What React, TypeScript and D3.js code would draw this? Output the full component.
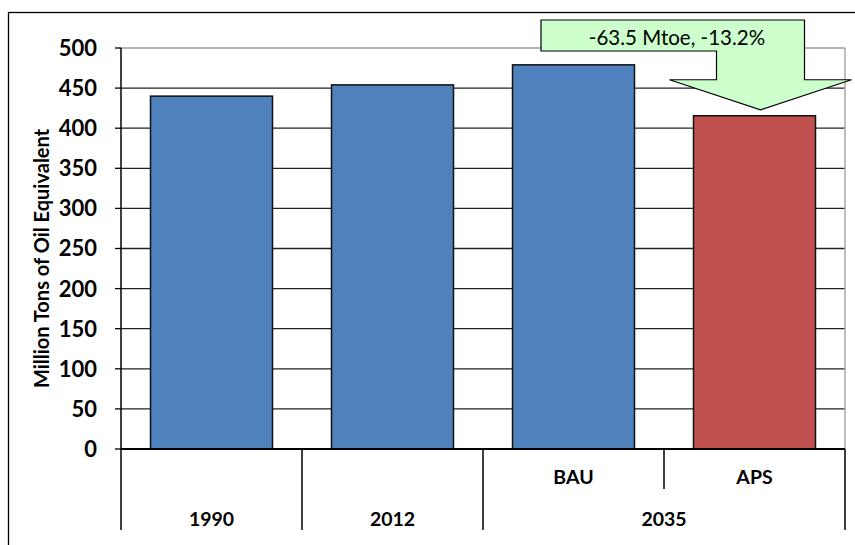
import React from "react";
import * as d3 from "d3";

const categories = ["1990", "2012", "BAU", "APS"];
const values = [440, 454, 479, 415.5];
const barColors = ["#4F81BD", "#4F81BD", "#4F81BD", "#C0504D"];
const groupLabels = ["1990", "2012", "2035"];
const groupSpans = [[0, 0], [1, 1], [2, 3]];
const yTicks = [0, 50, 100, 150, 200, 250, 300, 350, 400, 450, 500];
const yTitle = "Million Tons of Oil Equivalent";
const calloutText = "-63.5 Mtoe, -13.2%";

const W = 855;
const H = 545;
const plot = { left: 121, right: 845, top: 48, bottom: 449 };
const FONT = "Lato, 'Open Sans', sans-serif";

export default function App() {
  const x = d3.scaleBand<string>().domain(categories).range([plot.left, plot.right]).paddingInner(0.326).paddingOuter(0.163);
  const step = x.step();
  const y = d3.scaleLinear().domain([0, 500]).range([plot.bottom, plot.top]);
  const catLeft = (i: number) => plot.left + i * step;

  // callout geometry derived from scales
  const apsCenter = (x("APS") as number) + x.bandwidth() / 2;
  const tipX = apsCenter + 6;
  const tipY = y(values[3]) - 6;
  const headY = tipY - 30;
  const headL = tipX - 91;
  const headR = tipX + 91;
  const stemL = tipX - 44;
  const stemR = tipX + 44;
  const boxT = 20;
  const boxB = 51;
  const boxL = 541;
  const calloutPath = `M${boxL},${boxT} L${stemR},${boxT} L${stemR},${headY} L${headR},${headY} L${tipX},${tipY} L${headL},${headY} L${stemL},${headY} L${stemL},${boxB} L${boxL},${boxB} Z`;

  return (
    <div style={{ position: "fixed", left: 0, top: 0 }}>
      <svg width={W} height={H} style={{ display: "block", background: "#fff" }}>
        <rect x={8.5} y={12.5} width={W} height={H} fill="#fff" stroke="#000" strokeWidth={1.3} />
        {/* gridlines */}
        {yTicks.map((t) => (
          <line key={"g" + t} x1={plot.left} x2={plot.right} y1={y(t)} y2={y(t)}
            stroke={t === 500 ? "#9a9a9a" : "#222"} strokeWidth={t === 500 ? 1.5 : 1.3} />
        ))}
        <line x1={plot.right} x2={plot.right} y1={plot.top} y2={plot.bottom} stroke="#a8a8a8" strokeWidth={1.5} />
        {/* y ticks */}
        {yTicks.map((t) => (
          <g key={"t" + t}>
            <line x1={plot.left - 6} x2={plot.left} y1={y(t)} y2={y(t)} stroke="#000" strokeWidth={1.3} />
            <text x={plot.left - 24} y={y(t)} dy="0.36em" textAnchor="end" fontFamily={FONT} fontWeight="bold" fontSize={22} fill="#000">{t}</text>
          </g>
        ))}
        <text transform={`translate(42,${(plot.top + plot.bottom) / 2 + 10}) rotate(-90)`} textAnchor="middle" dy="0.35em"
          fontFamily={FONT} fontWeight="bold" fontSize={20} fill="#000">{yTitle}</text>
        {/* bars */}
        {categories.map((c, i) => (
          <rect key={c} x={x(c)} y={y(values[i])} width={x.bandwidth()} height={y(0) - y(values[i])}
            fill={barColors[i]} stroke="#111" strokeWidth={1.5} />
        ))}
        {/* axes */}
        <line x1={plot.left} x2={plot.left} y1={plot.top} y2={530} stroke="#000" strokeWidth={1.5} />
        <line x1={plot.left} x2={plot.right} y1={plot.bottom} y2={plot.bottom} stroke="#000" strokeWidth={1.8} />
        {[1, 2, 4].map((k) => (
          <line key={"ct" + k} x1={catLeft(k)} x2={catLeft(k)} y1={plot.bottom} y2={530} stroke="#000" strokeWidth={1.5} />
        ))}
        <line x1={catLeft(3)} x2={catLeft(3)} y1={plot.bottom} y2={489} stroke="#000" strokeWidth={1.5} />
        {categories.slice(2).map((c) => (
          <text key={"sub" + c} x={(x(c) as number) + x.bandwidth() / 2} y={484} textAnchor="middle"
            fontFamily={FONT} fontWeight="bold" fontSize={19.5} fill="#000">{c}</text>
        ))}
        {groupLabels.map((g, i) => (
          <text key={"grp" + g} x={(catLeft(groupSpans[i][0]) + catLeft(groupSpans[i][1] + 1)) / 2} y={526} textAnchor="middle"
            fontFamily={FONT} fontWeight="bold" fontSize={19.5} fill="#000">{g}</text>
        ))}
        {/* callout */}
        <path d={calloutPath} fill="#CCFFCC" stroke="#000" strokeWidth={1.2} strokeLinejoin="miter" />
        <text x={677} y={45} textAnchor="middle" fontFamily={FONT} fontSize={20.5} fill="#000">{calloutText}</text>
      </svg>
    </div>
  );
}
